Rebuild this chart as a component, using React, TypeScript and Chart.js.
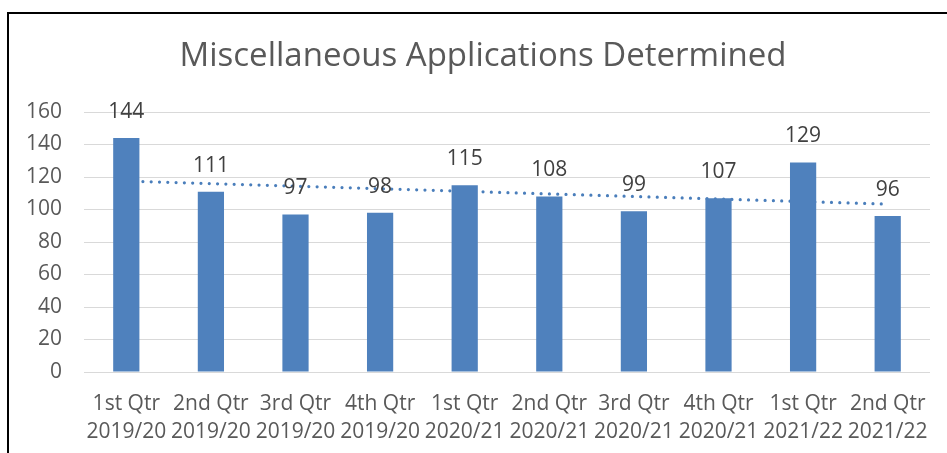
import React, { useEffect, useRef } from "react";
import { Chart, registerables } from "chart.js";

Chart.register(...registerables);

const title = "Miscellaneous Applications Determined";
const quarters = ["1st Qtr", "2nd Qtr", "3rd Qtr", "4th Qtr", "1st Qtr", "2nd Qtr", "3rd Qtr", "4th Qtr", "1st Qtr", "2nd Qtr"];
const years = ["2019/20", "2019/20", "2019/20", "2019/20", "2020/21", "2020/21", "2020/21", "2020/21", "2021/22", "2021/22"];
const counts = [144, 111, 97, 98, 115, 108, 99, 107, 129, 96];
const yTicks = [0, 20, 40, 60, 80, 100, 120, 140, 160];

function linearTrend(values: number[]): number[] {
  const n = values.length;
  const xs = values.map((_, i) => i + 1);
  const mx = xs.reduce((a, b) => a + b, 0) / n;
  const my = values.reduce((a, b) => a + b, 0) / n;
  let sxy = 0;
  let sxx = 0;
  xs.forEach((x, i) => {
    sxy += (x - mx) * (values[i] - my);
    sxx += (x - mx) * (x - mx);
  });
  const slope = sxy / sxx;
  return xs.map((x) => my + slope * (x - mx));
}

const FONT = "'Open Sans', 'Liberation Sans', sans-serif";

const framePlugin = {
  id: "frame",
  afterDraw(chart: any) {
    const ctx = chart.ctx;
    ctx.save();
    ctx.strokeStyle = "#000000";
    ctx.lineWidth = 2;
    ctx.beginPath();
    ctx.moveTo(8, 460);
    ctx.lineTo(8, 13);
    ctx.lineTo(960, 13);
    ctx.stroke();
    // chart title, centred on the chart frame
    ctx.font = `33px ${FONT}`;
    ctx.fillStyle = "#595959";
    ctx.textAlign = "center";
    ctx.textBaseline = "middle";
    ctx.fillText(title, 483, 57);
    ctx.restore();
  },
};

const labelPlugin = {
  id: "barLabels",
  afterDatasetsDraw(chart: any) {
    const ctx = chart.ctx;
    const meta = chart.getDatasetMeta(0);
    ctx.save();
    ctx.font = `21px ${FONT}`;
    ctx.fillStyle = "#404040";
    ctx.textAlign = "center";
    ctx.textBaseline = "middle";
    meta.data.forEach((bar: any, i: number) => {
      ctx.fillText(String(counts[i]), bar.x, bar.y - 26);
    });
    ctx.restore();
  },
};

export default function App() {
  const ref = useRef<HTMLCanvasElement | null>(null);

  useEffect(() => {
    if (!ref.current) return;
    const chart = new Chart(ref.current, {
      type: "bar",
      data: {
        labels: quarters.map((q, i) => [q, years[i]]),
        datasets: [
          {
            type: "bar",
            data: counts,
            backgroundColor: "#4F81BD",
            barPercentage: 0.31,
            categoryPercentage: 1,
            order: 1,
          },
          {
            type: "line",
            data: linearTrend(counts),
            borderColor: "#4A7EBB",
            borderWidth: 3.2,
            borderDash: [0, 8.3],
            borderCapStyle: "round",
            pointRadius: 0,
            fill: false,
            order: 2,
          } as any,
        ],
      },
      options: {
        responsive: false,
        animation: false,
        layout: { padding: { left: 0, right: 17, top: 112, bottom: 0 } },
        plugins: {
          legend: { display: false },
          tooltip: { enabled: false },
          title: { display: false },
        },
        scales: {
          x: {
            grid: { display: false, drawTicks: false },
            border: { display: false },
            ticks: {
              color: "#595959",
              font: { family: FONT, size: 21, lineHeight: 1.33 },
              padding: 18,
              maxRotation: 0,
              autoSkip: false,
            },
            afterFit: (s: any) => {
              s.height = 81;
            },
          },
          y: {
            min: 0,
            max: 160,
            afterBuildTicks: (s: any) => {
              s.ticks = yTicks.map((v) => ({ value: v }));
            },
            grid: { color: "#D9D9D9", lineWidth: 1, drawTicks: false },
            border: { display: false },
            ticks: {
              color: "#595959",
              font: { family: FONT, size: 21 },
              padding: 22,
            },
            afterFit: (s: any) => {
              s.width = 84;
            },
          },
        },
      },
      plugins: [framePlugin, labelPlugin],
    });
    return () => chart.destroy();
  }, []);

  return (
    <div style={{ position: "fixed", left: 0, top: 0, width: 947, height: 453, background: "#ffffff" }}>
      <canvas ref={ref} width={947} height={453} />
    </div>
  );
}
